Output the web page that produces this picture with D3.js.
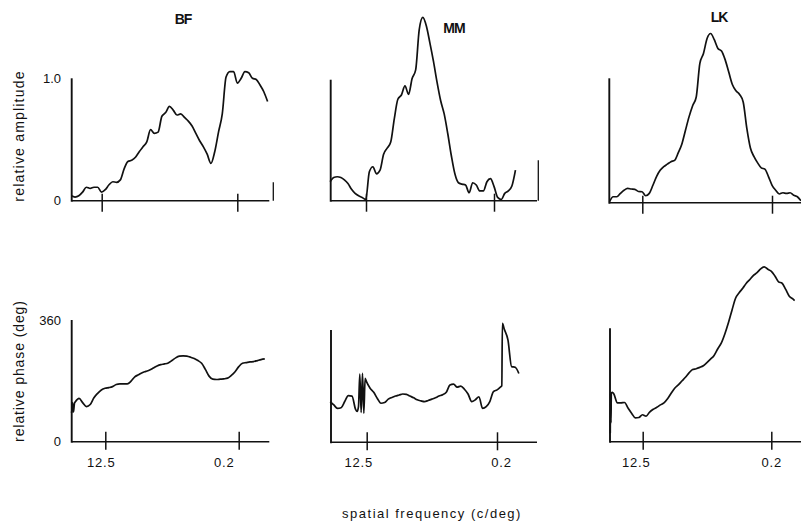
<!DOCTYPE html>
<html>
<head>
<meta charset="utf-8">
<script src="https://cdn.jsdelivr.net/npm/d3@7"></script>
<style>
	body { margin: 0; background: #fff; }
	svg { display: block; font-family: "Liberation Sans", Arial, sans-serif; }
	.curve { fill: none; stroke: #111; stroke-width: 1.7; stroke-linejoin: round; }
	.axis-line { stroke: #111; fill: none; }
	.label { fill: #111; }
	.tick line { stroke: #111; stroke-width: 1.5; }
	.tick text { fill: #111; font-size: 13px; font-family: "Liberation Sans", Arial, sans-serif; }
</style>
</head>
<body>
<div id="chart"></div>
<script>

// sampling frequencies (c/deg), 20 steps per decade, from 39.8 down to 0.07
const freqs = [39.81, 35.48, 31.62, 28.18, 25.12, 22.39, 19.95, 17.78, 15.85, 14.13,
	12.59, 11.22, 10.00, 8.913, 7.943, 7.079, 6.310, 5.623, 5.012, 4.467,
	3.981, 3.548, 3.162, 2.818, 2.512, 2.239, 1.995, 1.778, 1.585, 1.413,
	1.259, 1.122, 1.000, 0.8913, 0.7943, 0.7079, 0.6310, 0.5623, 0.5012, 0.4467,
	0.3981, 0.3548, 0.3162, 0.2818, 0.2512, 0.2239, 0.1995, 0.1778, 0.1585, 0.1413,
	0.1259, 0.1122, 0.1000, 0.0891, 0.0794, 0.0708];

// relative amplitude, one value per entry of freqs (null = not measured)
const bfAmp = [null, null, 0.04, 0.03, 0.04, 0.07, 0.11, 0.10, 0.11, 0.11,
	0.07, 0.09, 0.13, 0.155, 0.15, 0.17, 0.26, 0.32, 0.33, 0.355,
	0.40, 0.44, 0.48, 0.58, 0.55, 0.56, 0.69, 0.72, 0.77, 0.74,
	0.70, 0.71, 0.68, 0.65, 0.61, 0.55, 0.49, 0.44, 0.38, 0.305,
	0.40, 0.56, 0.71, 1.01, 1.055, 1.055, 0.96, 1.00, 1.055, 1.045,
	1.00, 0.99, 0.945, 0.89, 0.81];
const mmAmp = [0.155, 0.19, 0.196, 0.19, 0.17, 0.14, 0.093, 0.06, 0.04, 0.027,
	0.01, 0.237, 0.278, 0.22, 0.25, 0.38, 0.43, 0.48, 0.67, 0.83,
	0.865, 0.94, 0.87, 1.00, 1.07, 1.40, 1.50, 1.43, 1.29, 1.14,
	0.97, 0.82, 0.71, 0.55, 0.37, 0.22, 0.147, 0.136, 0.128, 0.065,
	0.147, 0.128, 0.08, 0.08, 0.155, 0.18, 0.115, 0.027, 0.01, 0.06,
	0.08, 0.12, 0.25];
const lkAmp = [null, 0.008, 0.048, 0.048, 0.075, 0.10, 0.115, 0.11, 0.107, 0.09,
	0.088, 0.056, 0.075, 0.14, 0.21, 0.26, 0.29, 0.31, 0.33, 0.34,
	0.40, 0.47, 0.58, 0.69, 0.78, 0.85, 1.12, 1.20, 1.32, 1.36,
	1.31, 1.24, 1.22, 1.15, 1.05, 0.95, 0.90, 0.87, 0.81, 0.60,
	0.44, 0.37, 0.32, 0.28, 0.27, 0.21, 0.14, 0.10, 0.07, 0.08,
	0.075, 0.08, 0.06, 0.048, 0.016];

// relative phase (deg), same sampling
const bfPhase = [null, 85, 118, 128, 115, 104, 110, 130, 143, 153,
	158, 160, 163, 169, 171, 171, 171, 179, 192, 198,
	204, 208, 212, 218, 224, 228, 230, 233, 240, 248,
	253, 254, 253, 250, 246, 240, 232, 214, 194, 185,
	184, 185, 186, 188, 196, 207, 222, 232, 234, 236,
	237, 240, 243, 245];
const mmPhase = [119, 109, 99, 101, 119, 136, 135, 96, null, null,
	177, 158, 146, 128, 114, 116, 126, 131, 135, 138,
	141, 140, 135, 130, 124, 121, 119, 122, 126, 130,
	135, 139, 146, 167, 170, 161, 164, 155, 141, 119,
	124, 133, 99, 104, 119, 148, 153, 162, 330, 299,
	221, 219, 201];
const lkPhase = [null, 25, 140, 114, 114, 115, 98, 83, 70, 71,
	79, 75, 87, 95, 101, 108, 114, 126, 142, 157,
	167, 178, 189, 202, 212, 214, 218, 223, 232, 242,
	253, 272, 289, 316, 349, 386, 421, 437, 450, 465,
	476, 488, 496, 507, 513, 506, 500, 486, 469, 465,
	447, 427, 419];

// extra [freq, phase] readings where the trace jumps between samples
const bfPhaseExtra = [[34.5, 116], [33.5, 88], [32.5, 114]];
const mmPhaseExtra = [[16.93, 90], [16.22, 104], [15.56, 199], [14.91, 87], [14.29, 201],
	[13.69, 85], [13.14, 187], [0.1718, 165], [0.1685, 347]];
const lkPhaseExtra = [[35.08, 142], [34.67, 55], [34.28, 143], [33.11, 145], [0.0944, 414]];

const subjects = ["BF", "MM", "LK"];
const freqTicks = [12.5, 0.2];
const ampTicks = [0, 1.0];
const phaseTicks = [0, 360];

/*
 *  Panel geometry (pixels), one entry per subject
 */
const ampLayout = [
	{left: 71.7, p12: 101.7, p02: 237.3, right: 269.3, base: 200.7, ref: 78.3, top: 1.0, stub: [273.3, 0.15], title: [183, 23.5]},
	{left: 330.7, p12: 366, p02: 494, right: 537, base: 200.7, ref: 78.5, top: 0.99, stub: [538.3, 0.33], title: [454, 33]},
	{left: 609.3, p12: 642.3, p02: 772, right: 801, base: 202.7, ref: 78.3, top: 1.0, stub: null, title: [719, 22]}
];
const phaseLayout = [
	{left: 71.7, p12: 105.3, p02: 238.7, right: 269.3, base: 441.7, ref: 320, top: 360, shift: [-4.5, -15]},
	{left: 331, p12: 366.7, p02: 497, right: 537, base: 442.3, ref: 319, top: 328, shift: [-8.5, 4]},
	{left: 610, p12: 642.7, p02: 771.3, right: 801, base: 441.7, ref: 319, top: 333, shift: [-7, 0]}
];

const svg = d3.select("#chart").append("svg")
	.attr("width", 801)
	.attr("height", 521);

// join sampled values with freqs, add extra readings, order along the axis
function buildPoints(values, extra) {
	let pts = freqs.map((f, i) => [f, values[i]])
		.filter(d => d[1] != null)
		.concat(extra || []);
	return pts.sort((a, b) => b[0] - a[0]);
}

function drawPanel(cfg, points, refValue, opts) {
	let g = svg.append("g");

	let x = d3.scaleLog()
		.domain([12.5, 0.2])
		.range([cfg.p12, cfg.p02]);
	let y = d3.scaleLinear()
		.domain([0, refValue])
		.range([cfg.base, cfg.ref]);

	// axes lines
	g.append("line")
		.attr("class", "axis-line")
		.attr("x1", cfg.left).attr("x2", cfg.right)
		.attr("y1", cfg.base).attr("y2", cfg.base)
		.attr("stroke-width", 1.5);
	g.append("line")
		.attr("class", "axis-line")
		.attr("x1", cfg.left).attr("x2", cfg.left)
		.attr("y1", cfg.base + 1).attr("y2", y(cfg.top))
		.attr("stroke-width", 1.9);
	if (cfg.stub) {
		g.append("line")
			.attr("class", "axis-line")
			.attr("x1", cfg.stub[0]).attr("x2", cfg.stub[0])
			.attr("y1", cfg.base).attr("y2", y(cfg.stub[1]))
			.attr("stroke-width", 1.3);
	}

	// frequency ticks, crossing the axis
	let xAxis = d3.axisBottom(x)
		.tickValues(freqTicks)
		.tickSize(opts.tickDown)
		.tickPadding(7.6)
		.tickFormat(opts.freqLabels ? d => d : "");
	let xg = g.append("g")
		.attr("transform", `translate(0, ${cfg.base})`)
		.call(xAxis);
	xg.select(".domain").remove();
	xg.selectAll(".tick line").attr("y1", -opts.tickUp);
	if (opts.freqLabels) {
		xg.selectAll(".tick text")
			.attr("dx", (d, i) => cfg.shift[i])
			.attr("letter-spacing", 0.8);
	}

	// value labels on the first column only
	if (opts.valueTicks) {
		let yAxis = d3.axisLeft(y)
			.tickValues(opts.valueTicks)
			.tickSize(0)
			.tickPadding(10.7)
			.tickFormat(opts.valueFormat);
		let yg = g.append("g")
			.attr("transform", `translate(${cfg.left}, 0)`)
			.call(yAxis);
		yg.select(".domain").remove();
	}

	g.append("path")
		.datum(points)
		.attr("class", "curve")
		.attr("d", d3.line()
			.x(d => x(d[0]))
			.y(d => y(d[1]))
			.curve(d3.curveMonotoneX));

	return g;
}

let ampSeries = [bfAmp, mmAmp, lkAmp];
let phaseSeries = [bfPhase, mmPhase, lkPhase];
let phaseExtras = [bfPhaseExtra, mmPhaseExtra, lkPhaseExtra];

subjects.forEach((name, i) => {
	let top = ampLayout[i];
	drawPanel(top, buildPoints(ampSeries[i]), 1.0, {
		tickUp: 7, tickDown: 11, freqLabels: false,
		valueTicks: i === 0 ? ampTicks : null,
		valueFormat: d => d === 0 ? "0" : d.toFixed(1)
	});

	drawPanel(phaseLayout[i], buildPoints(phaseSeries[i], phaseExtras[i]), 360, {
		tickUp: 10, tickDown: 8, freqLabels: true,
		valueTicks: i === 0 ? phaseTicks : null,
		valueFormat: d => d
	});

	// subject title
	svg.append("text")
		.attr("class", "label")
		.attr("x", top.title[0])
		.attr("y", top.title[1])
		.attr("text-anchor", "middle")
		.attr("font-size", "14px")
		.attr("font-weight", "bold")
		.attr("letter-spacing", -1)
		.text(name);
});

// axis titles
svg.append("text")
	.attr("class", "label")
	.attr("transform", "translate(24, 136) rotate(-90)")
	.attr("text-anchor", "middle")
	.attr("font-size", "14px")
	.attr("letter-spacing", 1.2)
	.text("relative amplitude");
svg.append("text")
	.attr("class", "label")
	.attr("transform", "translate(24, 371) rotate(-90)")
	.attr("text-anchor", "middle")
	.attr("font-size", "14px")
	.attr("letter-spacing", 0.9)
	.text("relative phase (deg)");
svg.append("text")
	.attr("class", "label")
	.attr("x", 432)
	.attr("y", 517.5)
	.attr("text-anchor", "middle")
	.attr("font-size", "13px")
	.attr("letter-spacing", 1.5)
	.text("spatial frequency (c/deg)");

</script>
</body>
</html>
